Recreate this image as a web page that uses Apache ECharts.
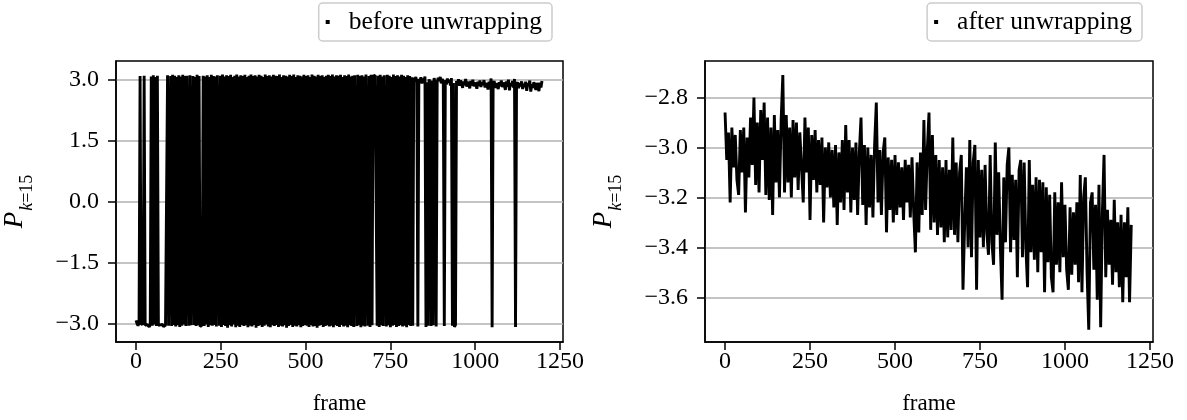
<!DOCTYPE html>
<html>
<head>
<meta charset="utf-8">
<script src="https://cdn.jsdelivr.net/npm/echarts@6/dist/echarts.min.js"></script>
<style>
  html, body { margin: 0; padding: 0; background: #fff; }
  #chart { width: 1187px; height: 420px; }
</style>
</head>
<body>
<div id="chart"></div>
<script>
// phase of bin k=15, sampled every few frames
const WRAP_STEP = 3
const UNWRAP_STEP = 5

const wrappedPhase = [
  -2.92,-3.00,-3.05,-2.97,3.08,-3.02,-3.06,-3.00,3.09,-3.04,
  -3.07,-3.02,-3.05,-3.08,-3.03,3.07,-3.05,3.10,-3.02,3.06,
  -3.06,3.09,-3.04,-3.08,-3.03,-3.06,-3.02,-3.07,-3.05,-3.04,
  -3.06,3.10,-3.05,-3.03,3.08,-3.06,3.11,-3.03,3.09,-3.07,
  3.06,-3.04,3.10,-3.08,3.07,-3.05,3.11,-3.02,3.08,-3.06,
  3.09,3.07,-3.05,3.10,-3.04,-3.07,3.08,-3.03,3.06,-3.06,
  3.11,-3.04,3.08,-3.07,-3.05,-3.03,3.09,-3.06,3.07,-3.02,
  3.10,-3.08,3.06,-3.04,3.11,-3.05,3.08,-3.03,3.07,-3.07,
  3.10,3.06,-3.05,3.09,-3.08,3.12,-3.03,3.07,-3.06,3.10,
  -3.10,3.08,-3.04,3.11,-3.07,3.06,-3.02,3.09,-3.09,3.12,
  -3.05,3.07,-3.08,3.10,-3.03,3.08,-3.06,3.11,-3.04,3.06,
  -3.09,3.09,-3.05,3.12,-3.07,3.08,-3.03,3.10,-3.10,3.07,
  -3.06,3.11,-3.04,3.09,-3.08,3.06,-3.05,3.12,-3.02,3.08,
  -3.07,3.10,-3.09,3.07,-3.04,3.11,-3.06,3.09,-3.03,3.08,
  -3.08,3.12,-3.05,3.06,-3.07,3.10,-3.04,3.09,-3.10,3.07,
  -3.06,3.11,-3.03,3.08,-3.08,3.12,-3.05,3.06,-3.07,3.10,
  -3.04,3.09,-3.09,3.07,-3.06,3.11,-3.03,3.08,-3.05,3.10,
  -3.08,3.06,-3.04,3.12,-3.07,3.09,-3.06,3.07,-3.10,3.11,
  -3.05,3.08,-3.03,3.10,-3.08,3.06,-3.06,3.09,-3.04,3.11,
  -3.07,3.08,-3.05,3.12,-3.09,3.07,-3.04,3.10,-3.06,3.09,
  -3.08,3.11,-3.03,3.06,-3.07,3.10,-3.05,3.08,-3.09,3.12,
  -3.04,3.07,-3.06,3.09,-3.08,3.10,3.07,-3.06,3.11,-3.04,
  3.08,-3.09,3.10,-3.05,3.07,-3.07,3.12,3.09,-3.05,3.08,
  -3.08,3.11,-3.04,3.08,3.06,3.10,3.07,-3.05,3.09,-3.08,
  3.11,-3.04,3.07,-3.06,3.10,3.08,-3.07,3.11,-3.04,3.09,
  -3.09,3.06,-3.05,3.12,-3.03,3.08,-3.08,3.10,-3.06,3.07,
  -3.04,3.11,-3.07,3.09,-3.05,3.06,-3.09,3.10,-3.03,3.08,
  -3.06,3.05,-3.05,3.04,2.96,3.06,2.92,-3.07,3.01,2.94,
  3.05,2.90,3.02,2.95,3.07,-3.08,2.93,-3.05,3.00,2.91,
  -3.06,2.97,-3.04,3.03,2.89,-3.07,2.93,3.04,2.96,3.06,
  2.90,3.01,2.94,-3.06,2.98,2.87,3.02,2.92,2.99,2.85,
  3.03,-3.05,2.91,-3.08,-3.03,2.96,2.88,3.00,2.84,2.97,
  2.90,2.79,2.95,2.86,3.01,2.82,2.94,2.88,2.78,2.96,
  2.85,2.99,2.83,2.92,2.87,2.77,2.94,2.84,2.97,2.81,
  2.93,2.86,2.98,2.80,2.91,2.85,2.75,2.94,2.82,3.02,
  -3.09,2.88,2.96,2.79,2.90,2.84,2.76,2.93,2.83,2.97,
  2.81,2.92,2.86,2.74,2.95,2.82,2.99,2.73,2.90,2.84,
  2.96,2.80,3.01,-3.08,2.87,2.93,2.78,2.91,2.83,2.95,
  2.76,2.89,2.81,2.94,2.72,2.90,2.84,2.97,2.70,2.88,
  2.79,2.93,2.82,2.74,2.91,2.85,2.71,2.92,2.80,2.96
]

const unwrappedPhase = [
  -2.86,-3.05,-2.94,-3.22,-2.92,-3.08,-2.95,-3.13,-3.19,-2.93,-3.10,-2.92,-3.26,-2.96,-3.12,-2.88,-3.07,-2.80,-3.15,-2.90,
  -3.18,-2.85,-3.05,-2.82,-3.19,-2.88,-3.21,-2.92,-3.27,-2.87,-3.14,-2.93,-3.20,-2.89,-2.71,-3.18,-2.87,-3.14,-2.92,-3.20,
  -2.89,-3.12,-2.90,-3.17,-2.94,-3.08,-3.22,-2.88,-3.10,-2.92,-3.29,-2.95,-3.13,-2.93,-3.18,-2.97,-3.15,-2.96,-3.30,-3.00,
  -3.16,-2.98,-3.20,-3.01,-3.24,-2.99,-3.31,-3.02,-3.22,-2.97,-3.25,-2.91,-3.18,-2.97,-3.26,-3.00,-3.21,-2.98,-3.27,-3.02,
  -2.88,-3.23,-2.99,-3.31,-3.00,-3.24,-3.03,-3.28,-2.99,-2.82,-3.22,-3.01,-3.27,-3.02,-2.96,-3.34,-3.04,-3.25,-3.05,-3.30,
  -3.03,-3.27,-3.06,-3.24,-3.08,-3.29,-3.05,-3.22,-3.07,-3.28,-3.04,-3.26,-3.42,-3.06,-3.34,-3.02,-3.27,-2.89,-3.25,-3.01,
  -2.86,-3.33,-2.95,-3.30,-3.03,-3.35,-3.05,-3.32,-3.08,-3.38,-3.05,-3.36,-3.09,-3.33,-2.96,-3.35,-3.06,-3.38,-3.10,-3.03,
  -3.57,-3.30,-3.08,-3.40,-2.97,-3.44,-3.06,-2.99,-3.57,-3.05,-3.36,-3.09,-3.40,-3.07,-3.34,-3.43,-3.03,-3.38,-3.47,-2.98,
  -3.35,-3.10,-3.40,-3.61,-3.12,-3.38,-3.07,-3.00,-3.42,-3.11,-3.37,-3.13,-3.52,-3.09,-3.05,-3.44,-3.06,-3.40,-3.56,-3.05,
  -3.42,-3.15,-3.45,-3.12,-3.50,-3.13,-3.42,-3.14,-3.58,-3.16,-3.46,-3.19,-3.52,-3.58,-3.18,-3.47,-3.22,-3.50,-3.14,-3.44,
  -3.23,-3.49,-3.57,-3.24,-3.51,-3.26,-3.47,-3.22,-3.54,-3.11,-3.58,-3.20,-3.12,-3.50,-3.73,-3.22,-3.18,-3.49,-3.23,-3.61,
  -3.15,-3.72,-3.26,-3.03,-3.52,-3.25,-3.47,-3.29,-3.55,-3.21,-3.50,-3.30,-3.56,-3.27,-3.62,-3.30,-3.52,-3.24,-3.62,-3.31
]

const seriesNames = ['before unwrapping', 'after unwrapping']
const frameTicks = [0, 250, 500, 750, 1000, 1250]
const wrappedTicks = [-3, -1.5, 0, 1.5, 3]
const unwrappedTicks = [-3.6, -3.4, -3.2, -3.0, -2.8]

const FONT = 'Liberation Serif'
const FS = 24

const fmt = v => v.toFixed(1).replace('-', '\u2212')
const fmtInt = v => String(v)

const xAxisFor = gridIndex => ({
  type: 'value',
  gridIndex,
  min: -59,
  max: 1259,
  name: 'frame',
  nameLocation: 'middle',
  nameGap: 50,
  nameTextStyle: { fontFamily: FONT, fontSize: 23, color: '#000' },
  axisLine: { show: true, onZero: false, lineStyle: { color: '#000', width: 1.5 } },
  axisTick: { show: true, length: 8, customValues: frameTicks, lineStyle: { color: '#000', width: 1.5 } },
  axisLabel: { customValues: frameTicks, formatter: fmtInt, margin: 8, fontFamily: FONT, fontSize: FS, color: '#000' },
  splitLine: { show: false }
})

const yName = {
  name: '{p|P}{k|k}{n|=15}',
  nameLocation: 'middle',
  nameGap: 80,
  nameTextStyle: {
    color: '#000',
    rich: {
      p: { fontFamily: FONT, fontStyle: 'italic', fontSize: 27, color: '#000', padding: [0, 1, 8, 0] },
      k: { fontFamily: FONT, fontStyle: 'italic', fontSize: 18, color: '#000', verticalAlign: 'bottom' },
      n: { fontFamily: FONT, fontSize: 18, color: '#000', verticalAlign: 'bottom' }
    }
  }
}

const yAxisFor = (gridIndex, min, max, ticks) => Object.assign({
  type: 'value',
  gridIndex,
  min,
  max,
  axisLine: { show: true, onZero: false, lineStyle: { color: '#000', width: 1.5 } },
  axisTick: { show: true, length: 8, customValues: ticks, lineStyle: { color: '#000', width: 1.5 } },
  axisLabel: { customValues: ticks, formatter: fmt, margin: 17, fontFamily: FONT, fontSize: FS, color: '#000' },
  splitLine: { show: true, lineStyle: { color: '#b0b0b0', width: 1.5 } }
}, yName)

const legendFor = (name, right) => ({
  data: [name],
  right,
  top: 3,
  orient: 'horizontal',
  icon: 'rect',
  itemWidth: 4,
  itemHeight: 4,
  padding: [6, 10, 6, 7],
  borderColor: '#cccccc',
  borderWidth: 1.5,
  borderRadius: 4,
  backgroundColor: '#fff',
  selectedMode: false,
  formatter: n => '{t|' + n + '}',
  textStyle: {
    rich: { t: { fontFamily: FONT, fontSize: 25.5, color: '#000', padding: [0, 0, 0, 14] } }
  }
})

const lineSeries = (name, values, step, idx) => ({
  name,
  type: 'line',
  xAxisIndex: idx,
  yAxisIndex: idx,
  data: values.map((v, i) => [i * step, v]),
  showSymbol: false,
  symbol: 'none',
  lineStyle: { color: '#000', width: 2.9 },
  itemStyle: { color: '#000' },
  silent: true
})

const chart = echarts.init(document.getElementById('chart'), null, { renderer: 'canvas' })
chart.setOption({
  animation: false,
  backgroundColor: '#fff',
  grid: [
    { left: 115, top: 61, width: 448, height: 283, show: true, borderColor: '#000', borderWidth: 1.5, backgroundColor: 'transparent' },
    { left: 705, top: 61, width: 448, height: 283, show: true, borderColor: '#000', borderWidth: 1.5, backgroundColor: 'transparent' }
  ],
  legend: [
    legendFor(seriesNames[0], 1187 - 552),
    legendFor(seriesNames[1], 1187 - 1142)
  ],
  xAxis: [xAxisFor(0), xAxisFor(1)],
  yAxis: [
    yAxisFor(0, -3.45, 3.45, wrappedTicks),
    yAxisFor(1, -3.779, -2.654, unwrappedTicks)
  ],
  series: [
    lineSeries(seriesNames[0], wrappedPhase, WRAP_STEP, 0),
    lineSeries(seriesNames[1], unwrappedPhase, UNWRAP_STEP, 1)
  ]
})
</script>
</body>
</html>
